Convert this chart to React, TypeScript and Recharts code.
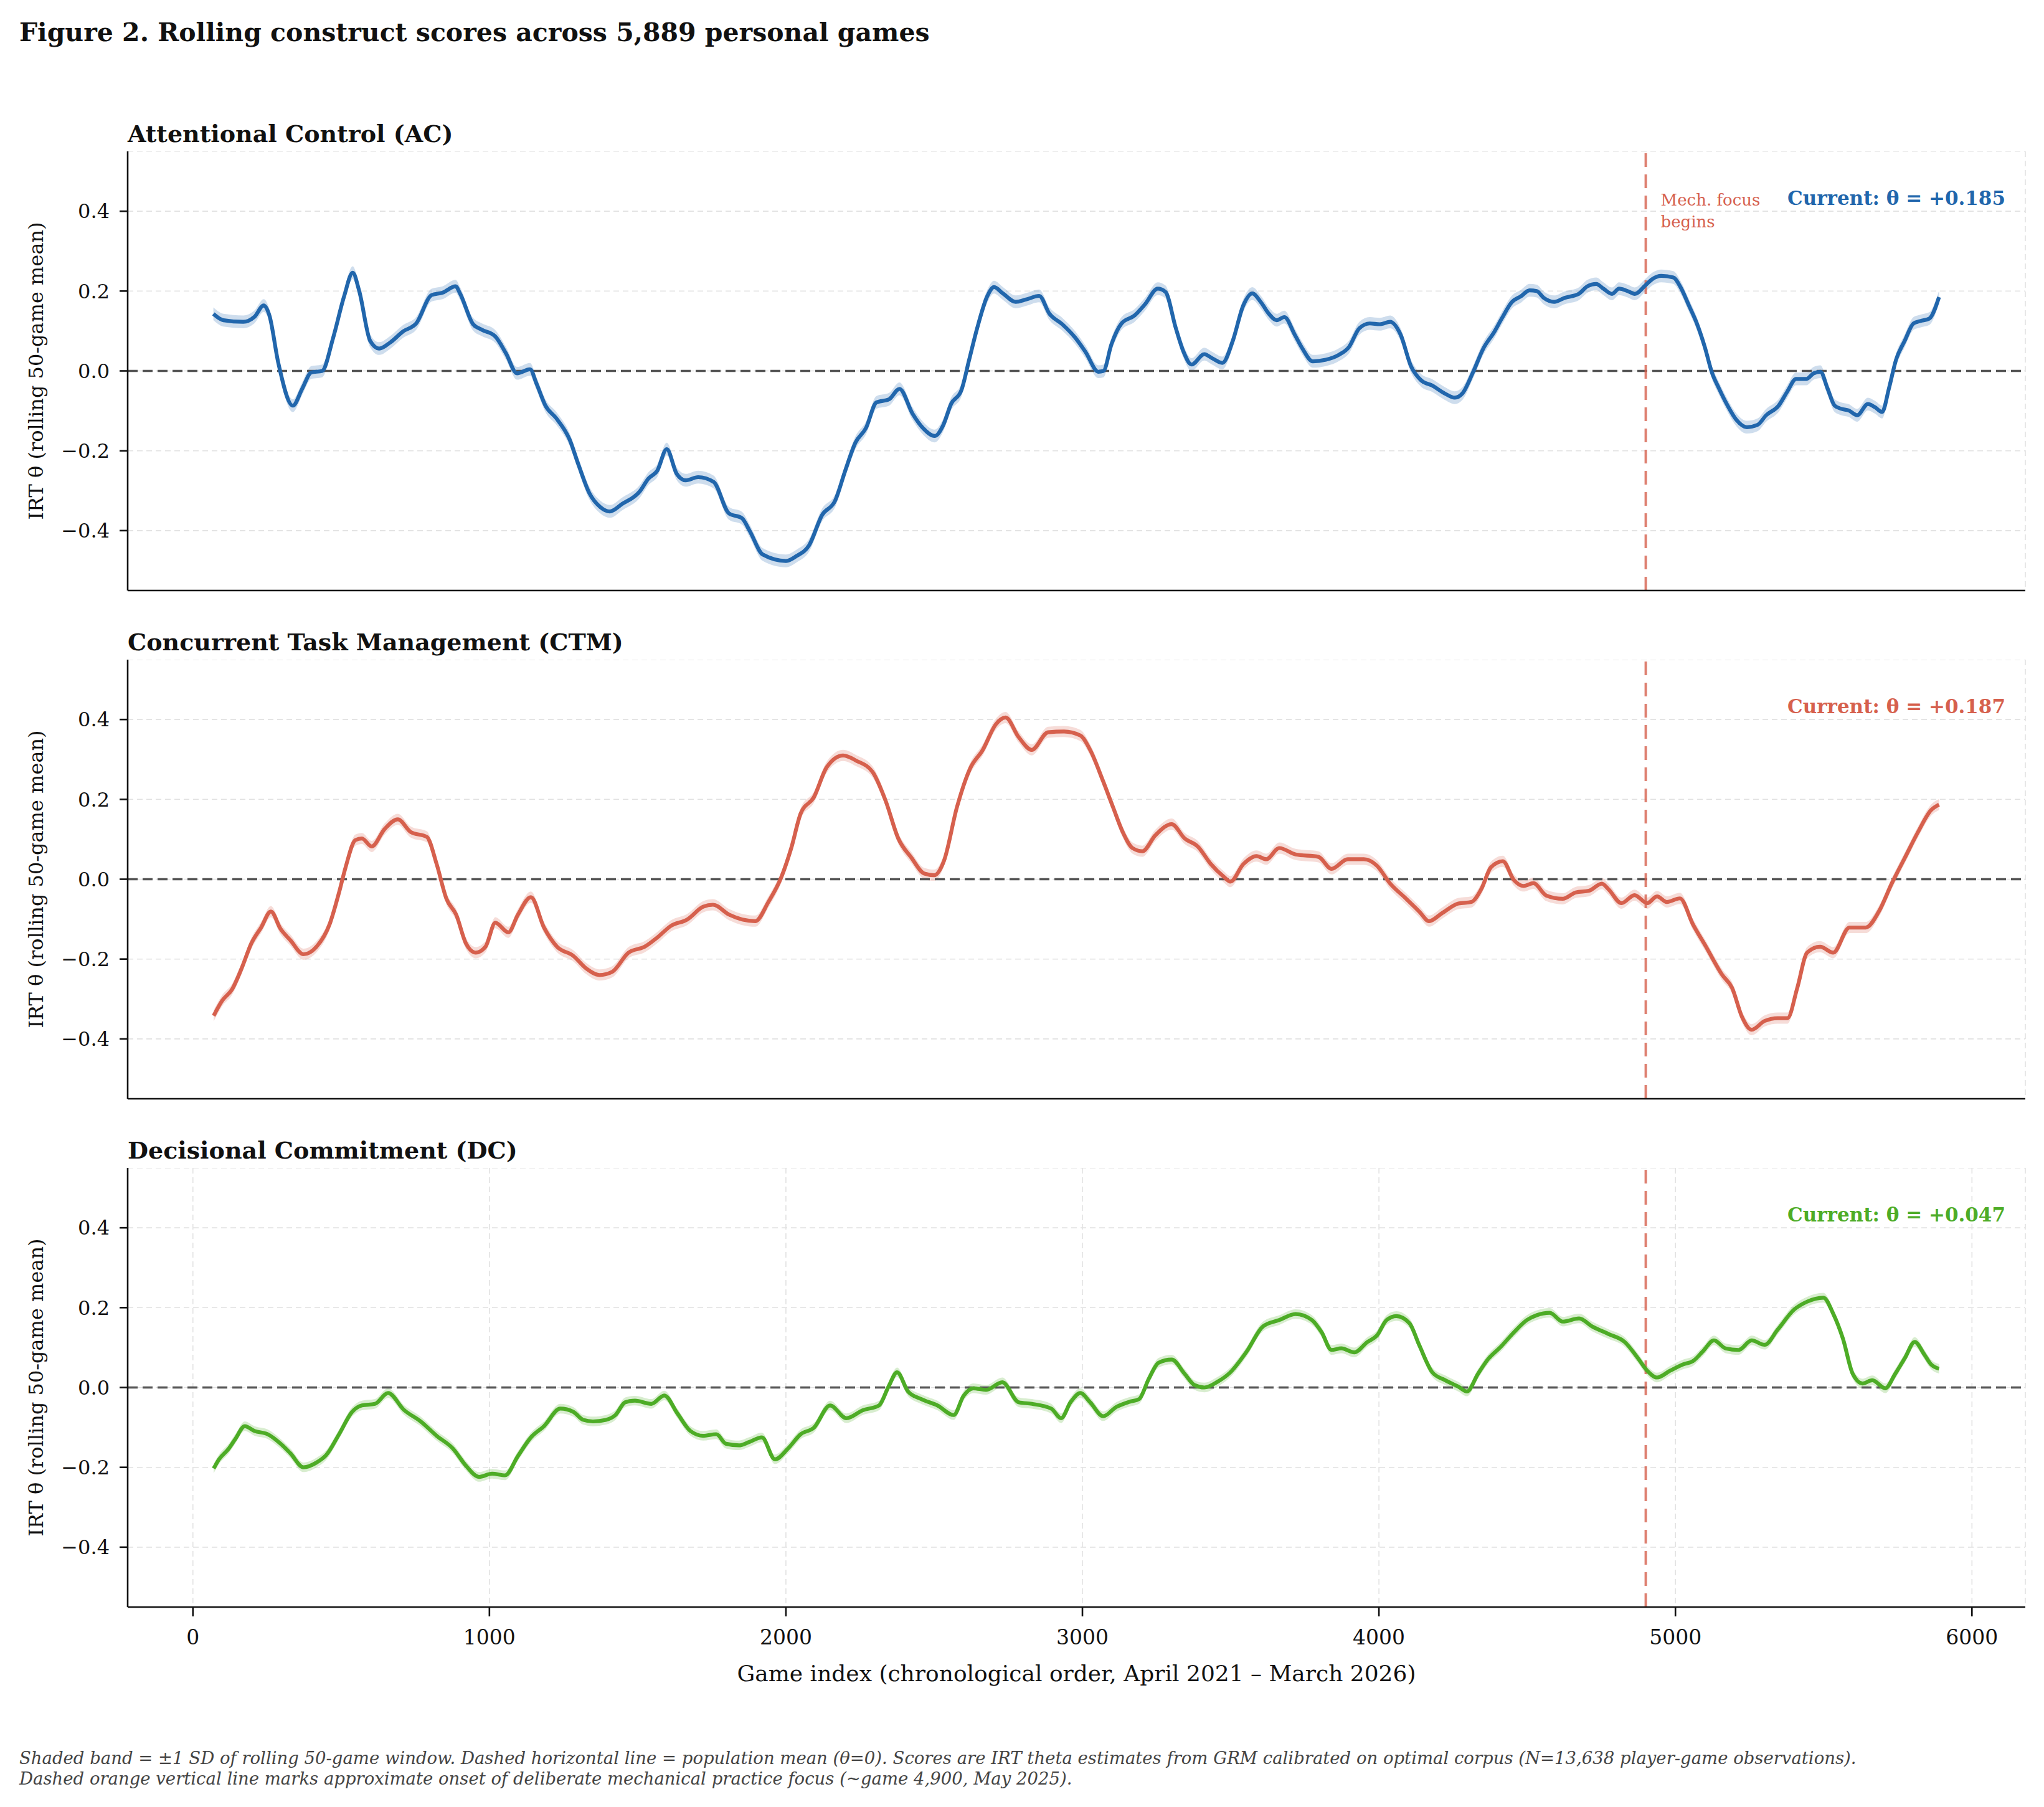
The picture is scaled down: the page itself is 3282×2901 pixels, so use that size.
import React from "react";
import {
  Area,
  CartesianGrid,
  ComposedChart,
  Line,
  ReferenceLine,
  XAxis,
  YAxis,
} from "recharts";

const FONT = '"DejaVu Serif", Georgia, serif';

const GAME_TICKS = [0, 1000, 2000, 3000, 4000, 5000, 6000];
const THETA_TICKS = [-0.4, -0.2, 0, 0.2, 0.4];
const MECH_FOCUS_GAME = 4900;

// [game index, rolling theta]
const AC_POINTS: [number, number][] = [
  [69, 0.143], [103, 0.127], [170, 0.123], [207, 0.135], [239, 0.164], [258, 0.139], [288, 0.02],
  [337, -0.087], [369, -0.044], [399, -0.004], [436, 0.0], [473, 0.083], [510, 0.187], [539, 0.246],
  [561, 0.2], [598, 0.075], [628, 0.056], [665, 0.071], [709, 0.099], [753, 0.119], [805, 0.19],
  [842, 0.196], [886, 0.212], [901, 0.194], [945, 0.117], [975, 0.103], [1019, 0.087], [1056, 0.044],
  [1093, -0.006], [1137, 0.004], [1159, -0.032], [1189, -0.087], [1226, -0.119], [1270, -0.171],
  [1300, -0.234], [1337, -0.306], [1374, -0.341], [1406, -0.352], [1448, -0.333], [1507, -0.302],
  [1536, -0.27], [1566, -0.25], [1598, -0.196], [1632, -0.258], [1662, -0.274], [1704, -0.266],
  [1756, -0.278], [1808, -0.357], [1852, -0.369], [1878, -0.401], [1922, -0.46], [2000, -0.476],
  [2035, -0.464], [2078, -0.437], [2122, -0.361], [2166, -0.325], [2200, -0.25], [2235, -0.179],
  [2270, -0.143], [2305, -0.079], [2348, -0.071], [2383, -0.045], [2427, -0.107], [2462, -0.143],
  [2502, -0.163], [2531, -0.135], [2557, -0.083], [2592, -0.048], [2618, 0.028], [2645, 0.107],
  [2679, 0.187], [2702, 0.21], [2732, 0.194], [2775, 0.173], [2810, 0.179], [2854, 0.188],
  [2889, 0.143], [2932, 0.117], [2976, 0.083], [3010, 0.048], [3054, -0.002], [3071, 0.0],
  [3098, 0.067], [3132, 0.119], [3176, 0.139], [3211, 0.167], [3254, 0.206], [3280, 0.198],
  [3315, 0.107], [3341, 0.048], [3368, 0.016], [3411, 0.042], [3437, 0.032], [3472, 0.02],
  [3507, 0.075], [3542, 0.163], [3573, 0.194], [3603, 0.171], [3629, 0.143], [3655, 0.127],
  [3681, 0.135], [3716, 0.091], [3742, 0.056], [3777, 0.024], [3821, 0.028], [3864, 0.04],
  [3899, 0.06], [3934, 0.107], [3969, 0.119], [4003, 0.117], [4038, 0.123], [4073, 0.091],
  [4108, 0.012], [4143, -0.024], [4178, -0.036], [4221, -0.056], [4256, -0.067], [4282, -0.056],
  [4317, -0.004], [4352, 0.056], [4390, 0.099], [4414, 0.131], [4449, 0.173], [4479, 0.187],
  [4508, 0.202], [4532, 0.2], [4556, 0.183], [4591, 0.173], [4626, 0.183], [4674, 0.193],
  [4703, 0.212], [4733, 0.218], [4757, 0.206], [4786, 0.193], [4810, 0.206], [4839, 0.2],
  [4863, 0.193], [4898, 0.214], [4922, 0.23], [4952, 0.238], [4993, 0.234], [5017, 0.21],
  [5046, 0.163], [5070, 0.123], [5099, 0.06], [5123, -0.004], [5147, -0.044], [5176, -0.087],
  [5206, -0.123], [5241, -0.141], [5277, -0.135], [5306, -0.111], [5348, -0.087], [5377, -0.052],
  [5407, -0.02], [5442, -0.02], [5466, -0.006], [5489, -0.002], [5513, -0.044], [5537, -0.087],
  [5560, -0.095], [5584, -0.099], [5613, -0.111], [5649, -0.083], [5673, -0.091], [5697, -0.103],
  [5720, -0.044], [5744, 0.028], [5773, 0.075], [5803, 0.119], [5826, 0.125], [5856, 0.131],
  [5889, 0.185],
];

const CTM_POINTS: [number, number][] = [
  [70, -0.342], [99, -0.304], [132, -0.276], [164, -0.224], [197, -0.161], [230, -0.121],
  [263, -0.081], [296, -0.125], [329, -0.153], [373, -0.188], [417, -0.169], [461, -0.113],
  [493, -0.033], [515, 0.03], [548, 0.098], [570, 0.102], [603, 0.082], [647, 0.126], [691, 0.15],
  [735, 0.118], [789, 0.106], [822, 0.038], [855, -0.049], [888, -0.089], [921, -0.161],
  [954, -0.184], [987, -0.169], [1020, -0.109], [1064, -0.133], [1096, -0.089], [1140, -0.045],
  [1184, -0.121], [1228, -0.169], [1283, -0.192], [1327, -0.224], [1371, -0.24], [1414, -0.232],
  [1469, -0.184], [1524, -0.169], [1568, -0.145], [1612, -0.117], [1667, -0.101], [1721, -0.069],
  [1754, -0.064], [1809, -0.089], [1853, -0.101], [1897, -0.105], [1941, -0.057], [1985, 0.006],
  [2018, 0.078], [2050, 0.165], [2094, 0.205], [2138, 0.281], [2193, 0.31], [2237, 0.297],
  [2292, 0.269], [2336, 0.197], [2379, 0.102], [2423, 0.054], [2467, 0.014], [2500, 0.01],
  [2533, 0.046], [2577, 0.181], [2621, 0.277], [2664, 0.324], [2708, 0.388], [2741, 0.405],
  [2785, 0.356], [2829, 0.324], [2884, 0.368], [2938, 0.37], [2993, 0.36], [3026, 0.324],
  [3070, 0.245], [3103, 0.181], [3136, 0.118], [3169, 0.078], [3202, 0.07], [3246, 0.11],
  [3301, 0.138], [3345, 0.102], [3389, 0.082], [3433, 0.038], [3477, 0.006], [3499, -0.006],
  [3543, 0.038], [3587, 0.058], [3620, 0.05], [3664, 0.078], [3719, 0.062], [3796, 0.056],
  [3840, 0.026], [3895, 0.05], [3949, 0.05], [3993, 0.034], [4037, -0.01], [4092, -0.049],
  [4136, -0.081], [4169, -0.105], [4213, -0.085], [4268, -0.061], [4312, -0.057], [4345, -0.025],
  [4378, 0.03], [4418, 0.045], [4455, -0.002], [4488, -0.017], [4521, -0.01], [4565, -0.041],
  [4620, -0.049], [4664, -0.033], [4708, -0.029], [4752, -0.011], [4774, -0.025], [4818, -0.06],
  [4862, -0.04], [4905, -0.06], [4938, -0.043], [4971, -0.057], [5015, -0.048], [5059, -0.113],
  [5103, -0.169], [5158, -0.24], [5191, -0.272], [5224, -0.344], [5257, -0.377], [5301, -0.355],
  [5345, -0.348], [5378, -0.348], [5411, -0.272], [5444, -0.184], [5488, -0.169], [5532, -0.184],
  [5587, -0.121], [5642, -0.121], [5686, -0.081], [5730, -0.01], [5774, 0.054], [5818, 0.118],
  [5862, 0.173], [5889, 0.187],
];

const DC_POINTS: [number, number][] = [
  [70, -0.203], [88, -0.18], [121, -0.153], [143, -0.129], [175, -0.097], [208, -0.109],
  [252, -0.117], [296, -0.141], [329, -0.165], [373, -0.2], [417, -0.188], [450, -0.169],
  [493, -0.117], [537, -0.061], [570, -0.045], [614, -0.041], [658, -0.014], [713, -0.057],
  [768, -0.085], [822, -0.121], [877, -0.153], [921, -0.196], [965, -0.224], [1009, -0.216],
  [1053, -0.22], [1096, -0.172], [1140, -0.125], [1184, -0.097], [1239, -0.053], [1283, -0.061],
  [1316, -0.081], [1349, -0.085], [1393, -0.081], [1425, -0.069], [1458, -0.037], [1491, -0.033],
  [1546, -0.041], [1590, -0.02], [1634, -0.065], [1678, -0.109], [1721, -0.121], [1765, -0.117],
  [1798, -0.141], [1842, -0.145], [1875, -0.137], [1919, -0.125], [1963, -0.18], [2007, -0.153],
  [2050, -0.117], [2094, -0.101], [2149, -0.045], [2204, -0.077], [2259, -0.057], [2314, -0.045],
  [2346, 0.002], [2375, 0.038], [2412, -0.01], [2456, -0.029], [2511, -0.045], [2566, -0.069],
  [2599, -0.021], [2632, -0.002], [2675, -0.006], [2730, 0.013], [2785, -0.037], [2830, -0.041],
  [2895, -0.053], [2928, -0.077], [2960, -0.037], [2993, -0.014], [3026, -0.037], [3070, -0.072],
  [3114, -0.049], [3158, -0.036], [3191, -0.029], [3224, 0.022], [3257, 0.062], [3301, 0.07],
  [3345, 0.034], [3378, 0.006], [3411, 0.0], [3455, 0.014], [3499, 0.038], [3554, 0.09],
  [3609, 0.153], [3664, 0.169], [3719, 0.184], [3774, 0.169], [3807, 0.138], [3840, 0.094],
  [3873, 0.098], [3917, 0.088], [3961, 0.114], [3993, 0.13], [4026, 0.169], [4059, 0.179],
  [4103, 0.161], [4136, 0.106], [4180, 0.038], [4224, 0.018], [4268, 0.002], [4297, -0.01],
  [4334, 0.034], [4367, 0.07], [4411, 0.102], [4455, 0.138], [4499, 0.169], [4532, 0.181],
  [4576, 0.187], [4620, 0.165], [4675, 0.173], [4719, 0.153], [4774, 0.134], [4829, 0.114],
  [4873, 0.074], [4905, 0.042], [4938, 0.025], [4982, 0.042], [5026, 0.058], [5059, 0.066],
  [5092, 0.09], [5130, 0.118], [5169, 0.098], [5213, 0.094], [5257, 0.118], [5301, 0.107],
  [5345, 0.145], [5400, 0.195], [5444, 0.215], [5499, 0.225], [5532, 0.185], [5565, 0.122],
  [5598, 0.034], [5631, 0.01], [5664, 0.018], [5708, -0.002], [5741, 0.034], [5774, 0.074],
  [5807, 0.114], [5840, 0.082], [5862, 0.058], [5889, 0.047],
];

// approximate half-width of the shaded ±1 SD band
const AC_SD = 0.016;
const CTM_SD = 0.014;
const DC_SD = 0.012;

const PANELS = [
  { title: "Attentional Control (AC)", points: AC_POINTS, sd: AC_SD, color: "#2166ac", current: "+0.185", top: 243 },
  { title: "Concurrent Task Management (CTM)", points: CTM_POINTS, sd: CTM_SD, color: "#d6604d", current: "+0.187", top: 1059 },
  { title: "Decisional Commitment (DC)", points: DC_POINTS, sd: DC_SD, color: "#4dac26", current: "+0.047", top: 1875 },
];

const PAGE_W = 3282;
const PLOT_H = 705;
const PLOT_LEFT = 205;
const PLOT_RIGHT = 3252;

const fmtTheta = (v: number) => (v < 0 ? "\u2212" : "") + Math.abs(v).toFixed(1);

function YTitle(props: any) {
  const vb = props.viewBox || {};
  const cx = 58;
  const cy = vb.y + vb.height / 2;
  return (
    <text
      x={cx}
      y={cy}
      transform={`rotate(-90 ${cx} ${cy})`}
      textAnchor="middle"
      dominantBaseline="central"
      fontFamily={FONT}
      fontSize={32}
      fill="#111"
    >
      IRT θ (rolling 50-game mean)
    </text>
  );
}

function MechLabel(props: any) {
  const vb = props.viewBox || {};
  const x = vb.x + 24;
  return (
    <text x={x} y={vb.y + 87} fontFamily={FONT} fontSize={26} fill="#d6604d">
      <tspan x={x}>Mech. focus</tspan>
      <tspan x={x} dy={35}>begins</tspan>
    </text>
  );
}

function Panel({ points, sd, color, top, last, first }: any) {
  const data = points.map(([game, theta]: [number, number]) => ({
    game,
    theta,
    band: [theta - sd, theta + sd],
  }));
  const xh = last ? 70 : 20;
  return (
    <div style={{ position: "absolute", left: 0, top }}>
      <ComposedChart
        width={PAGE_W}
        height={PLOT_H + xh}
        data={data}
        margin={{ top: 0, right: PAGE_W - PLOT_RIGHT, bottom: 0, left: 0 }}
      >
        <CartesianGrid stroke="#e2e2e2" strokeDasharray="9 6" strokeWidth={1.6} />
        <XAxis
          type="number"
          dataKey="game"
          domain={[-220, 6180]}
          ticks={GAME_TICKS}
          interval={0}
          allowDataOverflow
          height={xh}
          tickSize={15}
          tickMargin={22}
          axisLine={{ stroke: "#111", strokeWidth: 2.6 }}
          tickLine={{ stroke: "#111", strokeWidth: 2.6 }}
          tick={last ? { fontFamily: FONT, fontSize: 33, fill: "#111" } : false}
        />
        <YAxis
          type="number"
          domain={[-0.55, 0.55]}
          ticks={THETA_TICKS}
          interval={0}
          allowDataOverflow
          width={PLOT_LEFT}
          tickSize={13}
          tickMargin={16}
          tickFormatter={fmtTheta}
          axisLine={{ stroke: "#111", strokeWidth: 2.6 }}
          tickLine={{ stroke: "#111", strokeWidth: 2.6 }}
          tick={{ fontFamily: FONT, fontSize: 32, fill: "#111" }}
          label={<YTitle />}
        />
        <ReferenceLine y={0} stroke="#555" strokeWidth={3.4} strokeDasharray="16 8" />
        <ReferenceLine
          x={MECH_FOCUS_GAME}
          stroke="#d6604d"
          strokeOpacity={0.8}
          strokeWidth={4}
          strokeDasharray="22 12"
          label={first ? <MechLabel /> : undefined}
        />
        <Area
          type="monotone"
          dataKey="band"
          stroke="none"
          fill={color}
          fillOpacity={0.22}
          isAnimationActive={false}
        />
        <Line
          type="monotone"
          dataKey="theta"
          stroke={color}
          strokeWidth={6.2}
          dot={false}
          isAnimationActive={false}
        />
      </ComposedChart>
    </div>
  );
}

export default function App() {
  return (
    <div style={{ position: "absolute", left: 0, top: 0, width: PAGE_W, height: 2901, background: "#fff" }}>
      {PANELS.map((p, i) => (
        <Panel key={p.title} {...p} first={i === 0} last={i === PANELS.length - 1} />
      ))}
      <svg
        width={PAGE_W}
        height={2901}
        style={{ position: "absolute", left: 0, top: 0, pointerEvents: "none" }}
        fontFamily={FONT}
      >
        <text x={31} y={66} fontSize={41} fontWeight="bold" fill="#111">
          Figure 2. Rolling construct scores across 5,889 personal games
        </text>
        {PANELS.map((p) => (
          <g key={p.title}>
            <text x={PLOT_LEFT} y={p.top - 15} fontSize={38} fontWeight="bold" fill="#111">
              {p.title}
            </text>
            <text x={3220} y={p.top + 86} fontSize={31} fontWeight="bold" fill={p.color} textAnchor="end">
              {`Current: θ = ${p.current}`}
            </text>
          </g>
        ))}
        <text x={(PLOT_LEFT + PLOT_RIGHT) / 2} y={2699} fontSize={36} textAnchor="middle" fill="#111">
          Game index (chronological order, April 2021 – March 2026)
        </text>
        <text x={31} y={2832} fontSize={27.5} fontStyle="italic" fill="#444">
          Shaded band = ±1 SD of rolling 50-game window. Dashed horizontal line = population mean (θ=0). Scores are IRT theta estimates from GRM calibrated on optimal corpus (N=13,638 player-game observations).
        </text>
        <text x={31} y={2865} fontSize={27.5} fontStyle="italic" fill="#444">
          Dashed orange vertical line marks approximate onset of deliberate mechanical practice focus (~game 4,900, May 2025).
        </text>
      </svg>
    </div>
  );
}
